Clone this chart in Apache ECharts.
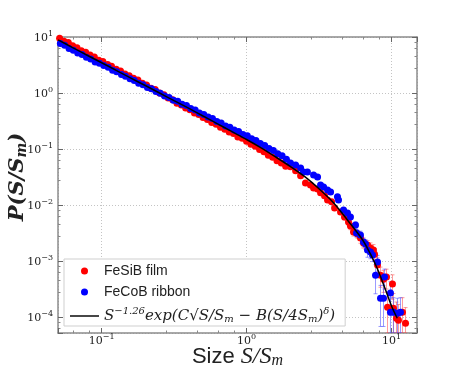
<!DOCTYPE html>
<html>
<head>
<meta charset="utf-8">
<script src="https://cdn.jsdelivr.net/npm/echarts@6/dist/echarts.min.js"></script>
<style>
    html, body { margin: 0; background: #fff; }
    #chart { width: 463px; height: 371px; }
</style>
</head>
<body>
<div id="chart"></div>
<script>
(function () {
    'use strict';

    // fitted curve
    var fitS = [0.0501, 0.0631, 0.0794, 0.1, 0.126, 0.158, 0.2, 0.251, 0.316, 0.398, 0.501, 0.631, 0.794,
        1.0, 1.26, 1.585, 2.0, 2.51, 3.16, 3.98, 5.01, 6.31, 7.08, 7.94, 8.91, 10.0, 10.96];
    var fitP = [8.91, 6.46, 4.73, 3.47, 2.54, 1.86, 1.36, 1.0, 0.733, 0.537, 0.389, 0.282, 0.204,
        0.148, 0.105, 0.0724, 0.049, 0.0324, 0.0195, 0.011, 0.00525, 0.0024, 0.00141, 7.6e-4, 3.55e-4, 1.58e-4, 9.55e-5];

    // FeSiB film (red)
    var filmHead = [[0.0513, 9.46], [0.055, 8.39], [0.0589, 7.98], [0.0631, 7.0], [0.0676, 6.46], [0.0724, 5.68],
        [0.0776, 5.36], [0.0832, 4.76], [0.0891, 4.4], [0.0955, 3.86], [0.102, 3.65], [0.11, 3.24], [0.117, 2.99],
        [0.126, 2.66], [0.135, 2.48], [0.145, 2.18], [0.155, 2.04], [0.166, 1.83], [0.178, 1.71], [0.191, 1.49],
        [0.204, 1.39], [0.219, 1.22], [0.234, 1.15], [0.251, 1.0], [0.269, 0.931], [0.288, 0.811], [0.309, 0.755],
        [0.331, 0.658], [0.355, 0.612], [0.38, 0.54], [0.407, 0.502], [0.437, 0.441], [0.468, 0.414], [0.501, 0.367],
        [0.537, 0.337], [0.575, 0.299], [0.617, 0.278], [0.661, 0.244], [0.708, 0.226], [0.759, 0.201], [0.813, 0.189],
        [0.871, 0.164], [0.933, 0.156], [1.0, 0.138], [1.072, 0.122], [1.148, 0.112], [1.23, 0.0977], [1.318, 0.0897],
        [1.413, 0.0776], [1.514, 0.0711], [1.622, 0.0621], [1.738, 0.0565], [1.862, 0.0491]];
    var filmTail = [[2.01, 0.0481], [2.18, 0.0408], [2.36, 0.0332], [2.55, 0.0248], [2.76, 0.0229], [2.9, 0.0202],
        [3.09, 0.0194], [3.24, 0.0165], [3.45, 0.0146], [3.62, 0.0123], [3.86, 0.0114], [4.05, 0.00887],
        [4.45, 0.00753], [4.74, 0.0061], [5.05, 0.00499], [5.21, 0.00423], [5.47, 0.0033], [5.83, 0.00304],
        [6.11, 0.00258], [6.41, 0.0021], [6.83, 0.00193], [7.16, 0.00171], [7.51, 0.00157], [7.64, 0.00133],
        [8.01, 8.47e-4], [8.4, 5.61e-4], [8.81, 4.76e-4], [9.24, 5.17e-4], [9.39, 1.5e-4], [10.16, 3.88e-4],
        [10.32, 1.44e-4], [10.83, 9.55e-5], [11.17, 8.79e-5], [11.91, 1.22e-4], [12.5, 7.78e-5]];
    var filmSigma = [0, 0, 0, 0, 0, 0, 0, 0, 0, 0, 0, 0,
        0.0007, 0.0007, 0.0006, 0.0006, 0.0005, 0.0005, 0.0005, 0.0004, 0.0004, 0.0004, 0.0004, 0.00035,
        0.0003, 0.00022, 0.0002, 0.0002, 0.00013, 0.00018, 0.00012, 0.00009, 0.00008, 0.0001, 0.00007];

    // FeCoB ribbon (blue)
    var ribbonHead = [[0.0519, 7.66], [0.0556, 7.11], [0.0596, 6.24], [0.0638, 5.79], [0.0684, 5.16], [0.0733, 4.86],
        [0.0785, 4.34], [0.0841, 4.04], [0.0902, 3.59], [0.0966, 3.39], [0.1035, 3.09], [0.111, 2.88], [0.119, 2.56],
        [0.127, 2.39], [0.137, 2.15], [0.146, 2.0], [0.157, 1.79], [0.168, 1.68], [0.18, 1.5], [0.193, 1.41],
        [0.207, 1.26], [0.221, 1.19], [0.237, 1.06], [0.254, 0.995], [0.272, 0.887], [0.292, 0.836], [0.313, 0.745],
        [0.335, 0.71], [0.359, 0.632], [0.385, 0.596], [0.412, 0.53], [0.442, 0.498], [0.473, 0.442], [0.507, 0.415],
        [0.543, 0.372], [0.582, 0.35], [0.624, 0.31], [0.668, 0.292], [0.716, 0.259], [0.767, 0.246], [0.822, 0.218],
        [0.881, 0.205], [0.944, 0.182], [1.012, 0.173], [1.084, 0.152], [1.161, 0.142], [1.245, 0.125], [1.334, 0.116],
        [1.429, 0.102], [1.531, 0.0942], [1.641, 0.082], [1.758, 0.0755], [1.884, 0.0656]];
    var ribbonTail = [[2.01, 0.0566], [2.18, 0.0521], [2.36, 0.0461], [2.47, 0.0391], [2.63, 0.0391], [2.9, 0.0345],
        [3.09, 0.0318], [3.24, 0.0229], [3.4, 0.0211], [3.62, 0.0186], [3.8, 0.0171], [4.24, 0.014], [4.31, 0.0123],
        [4.67, 0.00817], [4.97, 0.00723], [5.21, 0.00612], [5.65, 0.0044], [5.74, 0.00317], [6.11, 0.00292],
        [6.41, 0.00219], [6.62, 0.00201], [6.83, 0.00157], [7.16, 0.00145], [7.4, 0.00128], [7.76, 5.61e-4],
        [8.01, 9.59e-4], [8.4, 2.18e-4], [8.81, 2.18e-4], [8.95, 5.17e-4], [9.84, 2.68e-4], [9.84, 1.22e-4],
        [10.32, 1.22e-4], [11.0, 1.17e-4], [11.54, 1.22e-4]];
    var ribbonSigma = [0, 0, 0, 0, 0, 0, 0, 0, 0, 0, 0, 0, 0,
        0.0008, 0.0007, 0.0006, 0.0006, 0.0005, 0.0005, 0.0004, 0.0004, 0.0004, 0.00035, 0.0003, 0.0003,
        0.0003, 0.00015, 0.00015, 0.0002, 0.00016, 0.0001, 0.0001, 0.0001, 0.0001];

    var xRange = [0.05, 15];
    var yRange = [5.2e-5, 10];

    var ink = '#222';
    var frame = {show: true, onZero: false, lineStyle: {color: '#8c8c8c', width: 1.5}};

    function pairs(xs, ys) {
        return xs.map(function (x, i) { return [x, ys[i]]; });
    }

    function withErrors(points, sigma) {
        var out = [];
        points.forEach(function (p, i) {
            if (sigma[i] > 0) out.push([p[0], p[1], sigma[i]]);
        });
        return out;
    }

    function powLabel(v) {
        var e = Math.round(Math.log(v) / Math.LN10);
        return '{b|10}{e|' + (e < 0 ? '\u2212' + (-e) : e) + '}';
    }

    var tickRich = {
        b: {fontFamily: 'DejaVu Serif', fontSize: 11, color: ink, padding: [3, 0, 0, 0]},
        e: {fontFamily: 'DejaVu Serif', fontSize: 8, color: ink, verticalAlign: 'top'}
    };

    function errorBars(color) {
        return function (params, api) {
            var s = api.value(0), p = api.value(1), e = api.value(2);
            var top = api.coord([s, p + e]);
            var bot = api.coord([s, Math.max(p - e, yRange[0])]);
            var st = {stroke: color, lineWidth: 1};
            return {
                type: 'group',
                children: [
                    {type: 'line', shape: {x1: top[0], y1: top[1], x2: bot[0], y2: bot[1]}, style: st},
                    {type: 'line', shape: {x1: top[0] - 2, y1: top[1], x2: top[0] + 2, y2: top[1]}, style: st},
                    {type: 'line', shape: {x1: bot[0] - 2, y1: bot[1], x2: bot[0] + 2, y2: bot[1]}, style: st}
                ]
            };
        };
    }

    function logAxis(range, position, main) {
        var axis = {
            type: 'log',
            logBase: 10,
            min: range[0],
            max: range[1],
            position: position,
            axisLine: frame,
            axisTick: {inside: true, length: 5, lineStyle: {color: '#666'}},
            minorTick: {show: true, length: 2.5, lineStyle: {color: '#888'}},
            splitLine: {show: main, lineStyle: {color: '#c4c4c4', type: [1, 2]}},
            axisLabel: {show: main}
        };
        if (main) {
            axis.axisLabel = {formatter: powLabel, rich: tickRich, margin: 5, showMinLabel: false, showMaxLabel: true};
        }
        return axis;
    }

    var xMain = logAxis(xRange, 'bottom', true);
    xMain.axisLabel.showMaxLabel = false;
    xMain.axisLabel.margin = 0;
    xMain.name = '{s|Size }{m|S/S}{sub|m}';
    xMain.nameLocation = 'middle';
    xMain.nameGap = 12;
    xMain.nameMoveOverlap = false;
    xMain.nameTextStyle = {
        rich: {
            s: {fontFamily: 'Liberation Sans', fontSize: 22, color: ink},
            m: {fontFamily: 'Liberation Serif', fontStyle: 'italic', fontSize: 24, color: ink},
            sub: {fontFamily: 'Liberation Serif', fontStyle: 'italic', fontSize: 16, color: ink, padding: [8, 0, 0, 0]}
        }
    };

    var yMain = logAxis(yRange, 'left', true);
    yMain.name = '{p|P(S/S}{sub|m}{p|)}';
    yMain.nameLocation = 'middle';
    yMain.nameRotate = 90;
    yMain.nameGap = 29;
    yMain.nameMoveOverlap = false;
    yMain.nameTextStyle = {
        padding: [0, 0, 0, 16],
        rich: {
            p: {fontFamily: 'DejaVu Serif', fontStyle: 'italic', fontWeight: 'bold', fontSize: 21, color: ink},
            sub: {fontFamily: 'DejaVu Serif', fontStyle: 'italic', fontWeight: 'bold', fontSize: 14, color: ink, padding: [8, 0, 0, 0]}
        }
    };

    var formula = '{i|S}{sup|\u22121.26}{i|exp(C}{n|\u221a}{i|S/S}{sub|m}{n| \u2212 }{i|B(S/4S}{sub|m}{i|)}{sup|\u03b4}{i|)}';

    var option = {
        animation: false,
        backgroundColor: '#fff',
        grid: {left: 58, right: 46, top: 37, bottom: 38, outerBoundsMode: 'none', containLabel: false},
        xAxis: [xMain, logAxis(xRange, 'top', false)],
        yAxis: [yMain, logAxis(yRange, 'right', false)],
        legend: {
            orient: 'vertical',
            left: 64,
            top: 259,
            padding: [5, 10, 2, 6],
            itemGap: 7,
            itemWidth: 29,
            itemHeight: 7,
            backgroundColor: '#fff',
            borderColor: '#cfcfcf',
            borderWidth: 1,
            data: [
                {name: 'FeSiB film', icon: 'circle'},
                {name: 'FeCoB ribbon', icon: 'circle'},
                {name: 'fit', icon: 'path://M0,0L40,0L40,2L0,2Z', itemStyle: {color: '#000'}}
            ],
            formatter: function (name) {
                return name === 'fit' ? formula : '{t|' + name + '}';
            },
            textStyle: {
                rich: {
                    t: {fontFamily: 'Liberation Sans', fontSize: 14, color: ink, lineHeight: 14},
                    i: {fontFamily: 'DejaVu Serif', fontStyle: 'italic', fontSize: 15, color: ink, lineHeight: 26},
                    n: {fontFamily: 'DejaVu Serif', fontSize: 15, color: ink, lineHeight: 26},
                    sup: {fontFamily: 'DejaVu Serif', fontStyle: 'italic', fontSize: 10, color: ink, padding: [0, 0, 10, 0]},
                    sub: {fontFamily: 'DejaVu Serif', fontStyle: 'italic', fontSize: 10, color: ink, padding: [6, 0, 0, 0]}
                }
            }
        },
        series: [
            {
                name: 'filmErr',
                type: 'custom',
                renderItem: errorBars('rgba(255,70,70,0.55)'),
                data: withErrors(filmTail, filmSigma),
                encode: {x: 0, y: 1},
                clip: true,
                z: 2
            },
            {
                name: 'ribbonErr',
                type: 'custom',
                renderItem: errorBars('rgba(70,70,255,0.55)'),
                data: withErrors(ribbonTail, ribbonSigma),
                encode: {x: 0, y: 1},
                clip: true,
                z: 2
            },
            {
                name: 'FeSiB film',
                type: 'scatter',
                data: filmHead.concat(filmTail),
                symbolSize: 7,
                itemStyle: {color: '#ff0000', opacity: 1},
                z: 3
            },
            {
                name: 'FeCoB ribbon',
                type: 'scatter',
                data: ribbonHead.concat(ribbonTail),
                symbolSize: 7,
                itemStyle: {color: '#0000ff', opacity: 1},
                z: 3
            },
            {
                name: 'fit',
                type: 'line',
                data: pairs(fitS, fitP),
                symbol: 'none',
                smooth: 0.3,
                lineStyle: {color: '#000', width: 1.5},
                itemStyle: {color: '#000'},
                z: 5
            }
        ]
    };

    var chart = echarts.init(document.getElementById('chart'));
    chart.setOption(option);
})();
</script>
</body>
</html>
